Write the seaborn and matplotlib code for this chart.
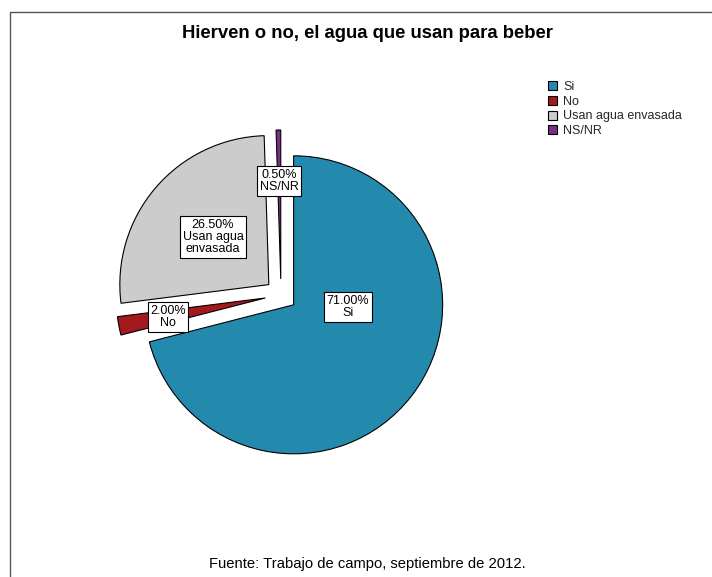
import matplotlib
matplotlib.use("Agg")
import matplotlib.pyplot as plt
from matplotlib.patches import Patch
from matplotlib.lines import Line2D
import seaborn as sns

# Survey answers and shares (%)
categories = ["Si", "No", "Usan agua envasada", "NS/NR"]
shares = [71.0, 2.0, 26.5, 0.5]
slice_labels = ["Si", "No", "Usan agua\nenvasada", "NS/NR"]
colors = ["#238AAE", "#A3191E", "#CCCCCC", "#7D2C8A"]

title = "Hierven o no, el agua que usan para beber"
source = "Fuente: Trabajo de campo, septiembre de 2012."

sns.set_theme(style="white")
plt.rcParams["font.family"] = ["Liberation Sans", "DejaVu Sans"]

W, H = 712, 577
fig = plt.figure(figsize=(W / 100, H / 100), dpi=100)
ax = fig.add_axes([0, 0, 1, 1])

# Pie laid out in pixel units (y measured upward)
cx, cy, r = 281, H - 295, 149
palette = sns.color_palette(colors)
wedges, _ = ax.pie(
    shares,
    colors=palette,
    startangle=90,
    counterclock=False,
    explode=[16] * len(shares),
    radius=r,
    center=(cx, cy),
    wedgeprops=dict(edgecolor="black", linewidth=0.8),
)
ax.set_xlim(0, W)
ax.set_ylim(0, H)
ax.set_aspect("equal")
ax.axis("off")

# Boxed value labels placed at fixed anchor points
label_anchor = [(348, 307), (168, 317), (213, 237), (279, 181)]
for (px, py), val, lab in zip(label_anchor, shares, slice_labels):
    ax.text(px, H - py, f"{val:.2f}%\n{lab}", ha="center", va="center",
            fontsize=9, linespacing=1.05, color="black",
            bbox=dict(boxstyle="square,pad=0.2", fc="white", ec="black", lw=0.8))

# Legend
handles = [Patch(facecolor=c, edgecolor="black", linewidth=0.8) for c in palette]
fig.legend(handles, categories, loc="upper left",
           bbox_to_anchor=(548 / W, 1 - 81 / H), frameon=False, fontsize=9,
           handlelength=0.75, handleheight=0.75, handletextpad=0.45,
           labelspacing=0.22, borderaxespad=0, borderpad=0)

fig.text(367 / W, 1 - 33 / H, title, ha="center", va="center",
         fontsize=13.3, fontweight="bold", color="black")
fig.text(367 / W, 1 - 564 / H, source, ha="center", va="center",
         fontsize=10.6, color="black")

# Outer frame: top and left edges
fig.add_artist(Line2D([9.5 / W, 1], [1 - 12 / H, 1 - 12 / H], color="#555555", lw=1))
fig.add_artist(Line2D([9.5 / W, 9.5 / W], [0, 1 - 12 / H], color="#555555", lw=1))

fig.savefig("out.png", dpi=100, facecolor="white")
